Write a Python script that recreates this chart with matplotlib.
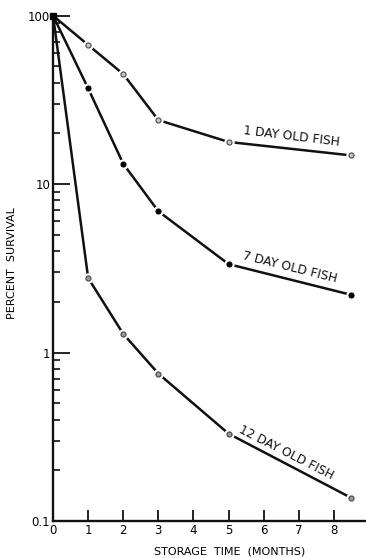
import matplotlib
matplotlib.use("Agg")
import matplotlib.pyplot as plt
from matplotlib.ticker import LogLocator, FixedLocator, NullFormatter

# storage time (months) and percent survival
months = [0, 1, 2, 3, 5, 8.5]
day1 = [100, 67, 45, 24, 17.8, 14.8]
day7 = [100, 37, 13.2, 6.9, 3.35, 2.2]
day12 = [100, 2.77, 1.29, 0.75, 0.33, 0.137]

labels = ["1 DAY OLD FISH", "7 DAY OLD FISH", "12 DAY OLD FISH"]
label_pos = [(6.80, 19.2, -7), (6.76, 3.20, -14), (6.64, 0.256, -27)]

plt.rcParams['font.family'] = 'DejaVu Sans'

fig = plt.figure(figsize=(3.66, 5.58), dpi=100)
ax = fig.add_axes([0.145, 0.0663, 0.863, 0.9056])

styles = [
    dict(mfc='#c8c8c8', mec='#555555', ms=3.6, mew=0.9),
    dict(mfc='black', mec='black', ms=3.6, mew=0.8),
    dict(mfc='#9a9a9a', mec='#505050', ms=3.6, mew=0.9),
]

for ys, st in zip([day1, day7, day12], styles):
    ax.plot(months, ys, color='#111111', lw=1.8, zorder=2, solid_capstyle='round')
    # small white ring around markers to leave a gap in the line
    ax.plot(months[1:], ys[1:], 'o', color='white', ms=6.5, zorder=3)
    ax.plot(months[1:], ys[1:], 'o', zorder=4, **st)

# common starting point at 100 %
ax.plot(months[0], day1[0], 's', color='black', ms=4, zorder=5, clip_on=False)

for txt, (x, y, rot) in zip(labels, label_pos):
    ax.text(x, y, txt, rotation=rot, rotation_mode='anchor', ha='center', va='center',
            fontsize=8.8, color='#111111')

ax.set_yscale('log')
ax.set_ylim(0.1, 100)
ax.set_xlim(0, 9)

ax.set_xticks(range(0, 10))
ax.set_xticklabels([str(i) for i in range(0, 10)], fontsize=8.5)
ax.yaxis.set_major_locator(FixedLocator([0.1, 1, 10, 100]))
ax.set_yticklabels(['0.1', '1', '10', '100'], fontsize=8.5)
ax.yaxis.set_minor_locator(LogLocator(base=10, subs=range(2, 10)))
ax.yaxis.set_minor_formatter(NullFormatter())

ax.tick_params(axis='x', direction='in', length=8, width=1.3, pad=2, color='#111111')
ax.tick_params(axis='y', which='major', direction='in', length=12, width=1.3, pad=2, color='#111111')
ax.tick_params(axis='y', which='minor', direction='in', length=5, width=1.2, color='#111111')

for side in ['top', 'right']:
    ax.spines[side].set_visible(False)
for side in ['left', 'bottom']:
    ax.spines[side].set_linewidth(1.7)
    ax.spines[side].set_color('#111111')

ax.set_xlabel('STORAGE  TIME  (MONTHS)', fontsize=8)
ax.xaxis.set_label_coords(0.56, -0.05)
ax.set_ylabel('PERCENT  SURVIVAL', fontsize=8)
ax.yaxis.set_label_coords(-0.115, 0.51)

fig.savefig('out.png', dpi=100)
